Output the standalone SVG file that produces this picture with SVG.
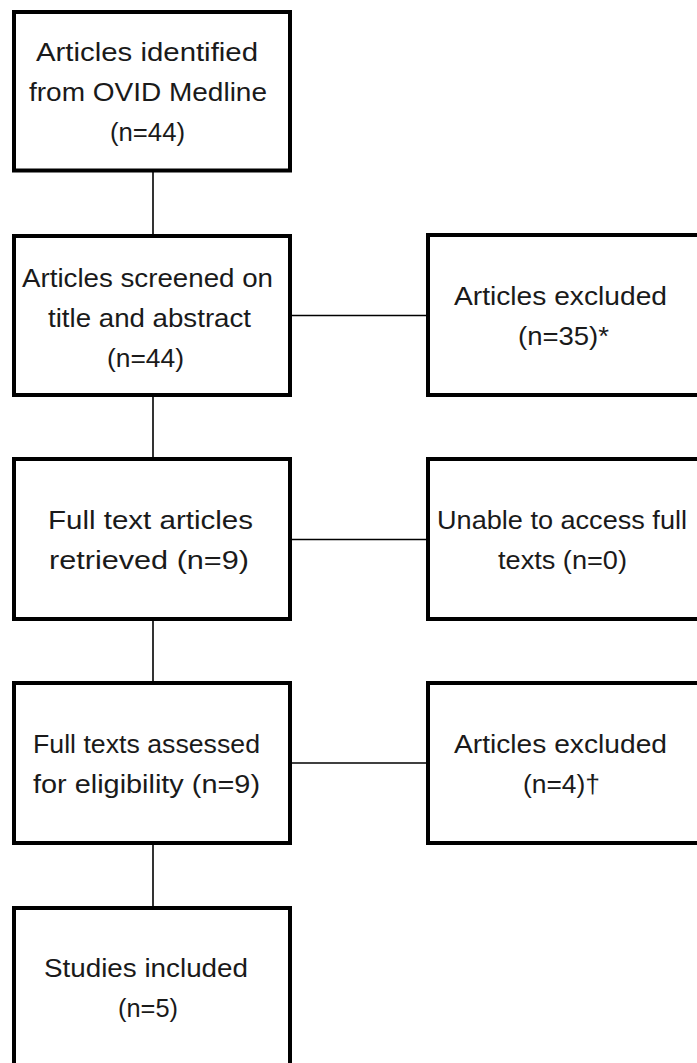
<svg xmlns="http://www.w3.org/2000/svg" width="697" height="1063" viewBox="0 0 697 1063">
<style>
.box{fill:#fff;stroke:#000;stroke-width:4}
.lbl{font-family:"Liberation Sans",Arial,sans-serif;font-size:25px;fill:#1a1a1a}
.con{stroke:#000;stroke-width:1.6;fill:none}
</style>
<rect width="697" height="1063" fill="#fff"/>
<g id="connectors">
<line class="con" x1="153" y1="170" x2="153" y2="236"/>
<line class="con" x1="153" y1="395" x2="153" y2="459"/>
<line class="con" x1="153" y1="619" x2="153" y2="683"/>
<line class="con" x1="153" y1="843" x2="153" y2="908"/>
<line class="con" x1="290" y1="315.5" x2="428" y2="315.5"/>
<line class="con" x1="290" y1="539.5" x2="428" y2="539.5"/>
<line class="con" x1="290" y1="763" x2="428" y2="763"/>
</g>
<g id="identified">
<rect class="box" x="14" y="12" width="276" height="158.5"/>
<text class="lbl" x="36" y="61" textLength="222" lengthAdjust="spacingAndGlyphs">Articles identified</text>
<text class="lbl" x="29" y="101" textLength="238" lengthAdjust="spacingAndGlyphs">from OVID Medline</text>
<text class="lbl" x="110" y="141" textLength="75" lengthAdjust="spacingAndGlyphs">(n=44)</text>
</g>
<g id="screened">
<rect class="box" x="14" y="236" width="276" height="159"/>
<text class="lbl" x="22" y="287" textLength="251" lengthAdjust="spacingAndGlyphs">Articles screened on</text>
<text class="lbl" x="48" y="327" textLength="203" lengthAdjust="spacingAndGlyphs">title and abstract</text>
<text class="lbl" x="107" y="367" textLength="77" lengthAdjust="spacingAndGlyphs">(n=44)</text>
</g>
<g id="excluded1">
<rect class="box" x="428" y="235" width="276" height="160"/>
<text class="lbl" x="454" y="305" textLength="213" lengthAdjust="spacingAndGlyphs">Articles excluded</text>
<text class="lbl" x="518" y="345" textLength="91" lengthAdjust="spacingAndGlyphs">(n=35)*</text>
</g>
<g id="retrieved">
<rect class="box" x="14" y="459" width="276" height="160"/>
<text class="lbl" x="48" y="529" textLength="205" lengthAdjust="spacingAndGlyphs">Full text articles</text>
<text class="lbl" x="49" y="569" textLength="200" lengthAdjust="spacingAndGlyphs">retrieved (n=9)</text>
</g>
<g id="unable">
<rect class="box" x="428" y="459" width="276" height="160"/>
<text class="lbl" x="437" y="529" textLength="250" lengthAdjust="spacingAndGlyphs">Unable to access full</text>
<text class="lbl" x="498" y="569" textLength="129" lengthAdjust="spacingAndGlyphs">texts (n=0)</text>
</g>
<g id="assessed">
<rect class="box" x="14" y="683" width="276" height="160"/>
<text class="lbl" x="33" y="753" textLength="227" lengthAdjust="spacingAndGlyphs">Full texts assessed</text>
<text class="lbl" x="33" y="793" textLength="227" lengthAdjust="spacingAndGlyphs">for eligibility (n=9)</text>
</g>
<g id="excluded2">
<rect class="box" x="428" y="683" width="276" height="160"/>
<text class="lbl" x="454" y="753" textLength="213" lengthAdjust="spacingAndGlyphs">Articles excluded</text>
<text class="lbl" x="523" y="793" textLength="77" lengthAdjust="spacingAndGlyphs">(n=4)†</text>
</g>
<g id="included">
<rect class="box" x="14" y="908" width="276" height="160"/>
<text class="lbl" x="44" y="977" textLength="204" lengthAdjust="spacingAndGlyphs">Studies included</text>
<text class="lbl" x="118" y="1017" textLength="60" lengthAdjust="spacingAndGlyphs">(n=5)</text>
</g>
</svg>
